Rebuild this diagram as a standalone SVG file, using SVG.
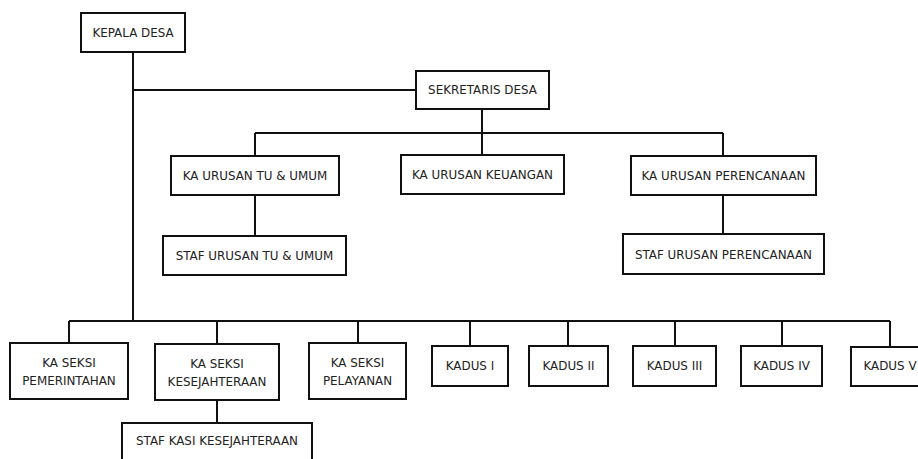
<svg xmlns="http://www.w3.org/2000/svg" width="918" height="459" viewBox="0 0 918 459">
<style>
.box{fill:#fff;stroke:#111;stroke-width:2}
.t{font-family:"DejaVu Sans",Verdana,sans-serif;font-size:11.9px;fill:#222;text-anchor:middle}
.c{fill:none;stroke:#111;stroke-width:2}
</style>
<rect width="918" height="459" fill="#fff"/>
<g id="connectors" class="c">
<path d="M133 52V321M133 90H416M482 109V133M255 133H723M255 133V156M482 133V155M723 133V156M255 195V236M723 195V234"/>
<path d="M69 321H890M69 321V343M217 321V344M358 321V343M470 321V346M568 321V346M675 321V346M782 321V346M890 321V347M217 400V423"/>
</g>
<g id="kepala-desa"><rect class="box" x="81" y="13" width="104" height="39"/><text class="t" x="133" y="37">KEPALA DESA</text></g>
<g id="sekretaris-desa"><rect class="box" x="416" y="71" width="133" height="38"/><text class="t" x="482.5" y="94">SEKRETARIS DESA</text></g>
<g id="ka-urusan-tu"><rect class="box" x="171" y="156" width="168" height="39"/><text class="t" x="255" y="180">KA URUSAN TU &amp; UMUM</text></g>
<g id="ka-urusan-keuangan"><rect class="box" x="401" y="155" width="163" height="39"/><text class="t" x="482.5" y="179">KA URUSAN KEUANGAN</text></g>
<g id="ka-urusan-perencanaan"><rect class="box" x="631" y="156" width="185" height="39"/><text class="t" x="723.5" y="180">KA URUSAN PERENCANAAN</text></g>
<g id="staf-urusan-tu"><rect class="box" x="163" y="236" width="183" height="39"/><text class="t" x="254.5" y="260">STAF URUSAN TU &amp; UMUM</text></g>
<g id="staf-urusan-perencanaan"><rect class="box" x="623" y="234" width="201" height="40"/><text class="t" x="723.5" y="259">STAF URUSAN PERENCANAAN</text></g>
<g id="ka-seksi-pemerintahan"><rect class="box" x="10" y="343" width="118" height="56"/><text class="t" x="69" y="367">KA SEKSI</text><text class="t" x="69" y="385">PEMERINTAHAN</text></g>
<g id="ka-seksi-kesejahteraan"><rect class="box" x="155" y="344" width="124" height="56"/><text class="t" x="217" y="368">KA SEKSI</text><text class="t" x="217" y="386">KESEJAHTERAAN</text></g>
<g id="ka-seksi-pelayanan"><rect class="box" x="309" y="343" width="97" height="56"/><text class="t" x="357.5" y="367">KA SEKSI</text><text class="t" x="357.5" y="385">PELAYANAN</text></g>
<g id="staf-kasi-kesejahteraan"><rect class="box" x="122" y="423" width="190" height="50"/><text class="t" x="217" y="445">STAF KASI KESEJAHTERAAN</text></g>
<g id="kadus-1"><rect class="box" x="432" y="346" width="76" height="40"/><text class="t" x="470" y="370">KADUS I</text></g>
<g id="kadus-2"><rect class="box" x="529" y="346" width="79" height="40"/><text class="t" x="568.5" y="370">KADUS II</text></g>
<g id="kadus-3"><rect class="box" x="633" y="346" width="83" height="40"/><text class="t" x="674.5" y="370">KADUS III</text></g>
<g id="kadus-4"><rect class="box" x="741" y="346" width="81" height="40"/><text class="t" x="781.5" y="370">KADUS IV</text></g>
<g id="kadus-5"><rect class="box" x="851" y="347" width="80" height="39"/><text class="t" x="890" y="370">KADUS V</text></g>
</svg>
